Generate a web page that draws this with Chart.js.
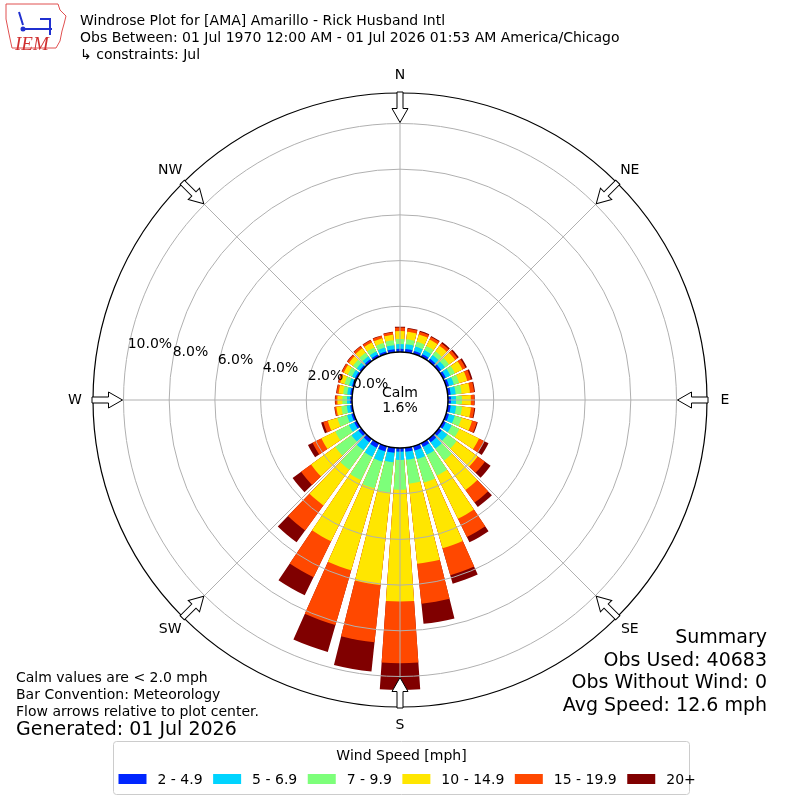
<!DOCTYPE html>
<html>
<head>
<meta charset="utf-8">
<script src="https://cdn.jsdelivr.net/npm/chart.js@4.4.1/dist/chart.umd.min.js"></script>
<style>
  html, body { margin: 0; padding: 0; background: #fff; }
  #wrap { width: 800px; height: 800px; }
</style>
</head>
<body>
<div id="wrap"><canvas id="windrose" width="800" height="800"></canvas></div>
<script>
// direction bins (degrees, meteorological "from")
const directions = [0, 10, 20, 30, 40, 50, 60, 70, 80, 90, 100, 110, 120, 130, 140, 150, 160, 170,
                    180, 190, 200, 210, 220, 230, 240, 250, 260, 270, 280, 290, 300, 310, 320, 330, 340, 350];

const speedBins = ["2 - 4.9", "5 - 6.9", "7 - 9.9", "10 - 14.9", "15 - 19.9", "20+"];
const binColors = ["#0026ff", "#00d4ff", "#7dff7a", "#ffe600", "#ff4800", "#800000"];

// percent of observations per direction, one array per speed bin
const speed2to5 = [0.14, 0.14, 0.13, 0.13, 0.13, 0.13, 0.13, 0.13, 0.13, 0.13, 0.13, 0.13, 0.13, 0.15, 0.18, 0.18, 0.20, 0.18,
                   0.16, 0.22, 0.24, 0.22, 0.18, 0.15, 0.13, 0.11, 0.09, 0.09, 0.09, 0.09, 0.09, 0.09, 0.11, 0.11, 0.11, 0.13];
const speed5to7 = [0.21, 0.21, 0.20, 0.20, 0.20, 0.20, 0.22, 0.22, 0.22, 0.22, 0.24, 0.26, 0.29, 0.31, 0.35, 0.39, 0.39, 0.35,
                   0.36, 0.42, 0.46, 0.44, 0.44, 0.37, 0.26, 0.20, 0.15, 0.13, 0.13, 0.13, 0.15, 0.15, 0.15, 0.15, 0.18, 0.18];
const speed7to10 = [0.22, 0.22, 0.22, 0.20, 0.20, 0.22, 0.22, 0.24, 0.26, 0.26, 0.26, 0.31, 0.37, 0.50, 0.64, 1.01, 1.07, 1.05,
                    1.31, 1.33, 1.23, 1.14, 1.05, 0.88, 0.66, 0.44, 0.24, 0.20, 0.18, 0.20, 0.20, 0.20, 0.20, 0.20, 0.20, 0.22];
const speed10to15 = [0.35, 0.33, 0.33, 0.31, 0.31, 0.33, 0.37, 0.37, 0.37, 0.39, 0.39, 0.48, 0.96, 1.14, 1.60, 2.10, 2.99, 3.52,
                     4.89, 4.07, 3.72, 2.98, 1.93, 1.31, 0.68, 0.44, 0.22, 0.22, 0.20, 0.20, 0.20, 0.22, 0.24, 0.24, 0.22, 0.24];
const speed15to20 = [0.15, 0.13, 0.13, 0.13, 0.13, 0.13, 0.15, 0.17, 0.18, 0.15, 0.15, 0.22, 0.26, 0.39, 0.68, 0.89, 1.23, 1.76,
                     2.70, 2.52, 2.49, 1.75, 1.36, 0.54, 0.43, 0.20, 0.07, 0.09, 0.09, 0.09, 0.09, 0.09, 0.11, 0.11, 0.11, 0.11];
const speed20up = [0.04, 0.04, 0.04, 0.04, 0.07, 0.07, 0.07, 0.07, 0.04, 0.02, 0.04, 0.04, 0.20, 0.31, 0.24, 0.26, 0.38, 0.89,
                   1.17, 1.29, 1.23, 0.88, 0.64, 0.46, 0.22, 0.10, 0.02, 0.02, 0.02, 0.02, 0.02, 0.02, 0.02, 0.02, 0.02, 0.02];

const ringTicks = [0, 2, 4, 6, 8, 10];
const compassLabels = ["N", "NE", "E", "SE", "S", "SW", "W", "NW"];
const calmPercent = 1.6;

const titleLines = [
    "Windrose Plot for [AMA] Amarillo - Rick Husband Intl",
    "Obs Between: 01 Jul 1970 12:00 AM - 01 Jul 2026 01:53 AM America/Chicago",
    "\u21b3 constraints: Jul",
];
const noteLines = ["Calm values are < 2.0 mph", "Bar Convention: Meteorology", "Flow arrows relative to plot center."];
const generatedText = "Generated: 01 Jul 2026";
const summaryLines = ["Summary", "Obs Used: 40683", "Obs Without Wind: 0", "Avg Speed: 12.6 mph"];

// geometry of the polar axes (pixels)
const OUTER_R = 307;
const CALM_R = 48;
const PX_PER_PCT = 22.85;
const rMin = -CALM_R / PX_PER_PCT;
const rMax = rMin + OUTER_R / PX_PER_PCT;
const BAR_DEG = 8;
const GAP_DEG = 2;

const FONT = "DejaVu Sans";
const SMALL = 14;
const LARGE = 19;
Chart.defaults.font.family = FONT;

// stacked bars: each dataset is cumulative, interleaved with empty gap slices
const bins = [speed2to5, speed5to7, speed7to10, speed10to15, speed15to20, speed20up];
let running = directions.map(() => 0);
const datasets = bins.map((bin, k) => {
    running = running.map((v, i) => v + bin[i]);
    const data = [];
    running.forEach((v) => data.push(v, 0));
    return {
        label: speedBins[k],
        data: data,
        backgroundColor: (ctx) => (ctx.dataIndex % 2 ? "rgba(0,0,0,0)" : binColors[k]),
        borderWidth: 0,
        angle: (ctx) => (ctx.dataIndex % 2 ? GAP_DEG : BAR_DEG),
    };
});
const labels = directions.flatMap((d) => [d + "\u00b0", ""]);

function text(ctx, str, x, y, size, align, color) {
    ctx.font = size + "px '" + FONT + "'";
    ctx.textAlign = align || "left";
    ctx.textBaseline = "alphabetic";
    ctx.fillStyle = color || "#000";
    ctx.fillText(str, x, y);
}

function drawArrow(ctx, cx, cy, deg, rTip, rTail) {
    ctx.save();
    ctx.translate(cx, cy);
    ctx.rotate((deg * Math.PI) / 180);
    const rBase = rTip + 14;
    ctx.beginPath();
    ctx.moveTo(-3, -rTail);
    ctx.lineTo(3, -rTail);
    ctx.lineTo(3, -rBase);
    ctx.lineTo(8, -rBase);
    ctx.lineTo(0, -rTip);
    ctx.lineTo(-8, -rBase);
    ctx.lineTo(-3, -rBase);
    ctx.closePath();
    ctx.fillStyle = "#fff";
    ctx.fill();
    ctx.strokeStyle = "#000";
    ctx.lineWidth = 1;
    ctx.stroke();
    ctx.restore();
}

function drawLogo(ctx) {
    ctx.save();
    ctx.strokeStyle = "#e05050";
    ctx.lineWidth = 1;
    ctx.beginPath();
    const pts = [[6, 4], [58, 4], [60, 10], [66, 16], [64, 24], [62, 31], [60, 41], [56, 48], [12, 48], [9, 34], [6, 19]];
    pts.forEach((p, i) => (i ? ctx.lineTo(p[0], p[1]) : ctx.moveTo(p[0], p[1])));
    ctx.closePath();
    ctx.stroke();
    ctx.strokeStyle = "#2030d0";
    ctx.fillStyle = "#2030d0";
    ctx.lineWidth = 2;
    ctx.beginPath();
    ctx.moveTo(23, 29); ctx.lineTo(52, 29);
    ctx.moveTo(40, 19); ctx.lineTo(50, 19); ctx.lineTo(50, 35);
    ctx.moveTo(19, 12); ctx.lineTo(23, 25);
    ctx.stroke();
    ctx.beginPath(); ctx.arc(23, 29, 2.5, 0, Math.PI * 2); ctx.fill();
    ctx.font = "italic 19px 'Liberation Serif'";
    ctx.fillStyle = "#d03030";
    ctx.textAlign = "left";
    ctx.fillText("IEM", 15, 45);
    ctx.restore();
}

const overlay = {
    id: "windroseOverlay",
    afterDraw(chart) {
        const ctx = chart.ctx;
        const s = chart.scales.r;
        const cx = s.xCenter;
        const cy = s.yCenter;
        const R = s.drawingArea;
        const r0 = s.getDistanceFromCenterForValue(0);

        // spokes every 45 degrees
        ctx.save();
        ctx.strokeStyle = "#b0b0b0";
        ctx.lineWidth = 1;
        for (let k = 0; k < 8; k++) {
            const a = (k * 45 * Math.PI) / 180;
            ctx.beginPath();
            ctx.moveTo(cx + r0 * Math.sin(a), cy - r0 * Math.cos(a));
            ctx.lineTo(cx + R * Math.sin(a), cy - R * Math.cos(a));
            ctx.stroke();
        }

        // outer frame
        ctx.strokeStyle = "#000";
        ctx.lineWidth = 1.2;
        ctx.beginPath();
        ctx.arc(cx, cy, R, 0, Math.PI * 2);
        ctx.stroke();

        // calm circle
        ctx.fillStyle = "#fff";
        ctx.beginPath();
        ctx.arc(cx, cy, r0, 0, Math.PI * 2);
        ctx.fill();
        ctx.lineWidth = 1.5;
        ctx.stroke();
        ctx.restore();

        text(ctx, "Calm", cx, cy - 3, SMALL, "center");
        text(ctx, calmPercent.toFixed(1) + "%", cx, cy + 12, SMALL, "center");

        // ring labels along 10 degrees above west
        const la = (170 * Math.PI) / 180;
        ringTicks.forEach((v) => {
            const r = s.getDistanceFromCenterForValue(v);
            text(ctx, v.toFixed(1) + "%", cx + r * Math.cos(la), cy - r * Math.sin(la) - 3.5, SMALL, "left");
        });

        // flow arrows and compass labels
        compassLabels.forEach((lab, k) => {
            const deg = k * 45;
            drawArrow(ctx, cx, cy, deg, s.getDistanceFromCenterForValue(10) + 1, R + 1);
            const a = (deg * Math.PI) / 180;
            ctx.font = SMALL + "px '" + FONT + "'";
            ctx.textAlign = "center";
            ctx.textBaseline = "middle";
            ctx.fillStyle = "#000";
            ctx.fillText(lab, cx + (R + 18) * Math.sin(a), cy - (R + 18) * Math.cos(a));
        });

        // titles and notes
        drawLogo(ctx);
        titleLines.forEach((t, i) => text(ctx, t, 80, 25 + i * 17, SMALL, "left"));
        noteLines.forEach((t, i) => text(ctx, t, 16, 682 + i * 17, SMALL, "left"));
        text(ctx, generatedText, 16, 735, LARGE, "left");
        summaryLines.forEach((t, i) => text(ctx, t, 767, 643 + i * 22.5, LARGE, "right"));

        // speed legend
        ctx.save();
        ctx.fillStyle = "rgba(255,255,255,0.85)";
        ctx.strokeStyle = "#cccccc";
        ctx.lineWidth = 1;
        ctx.beginPath();
        ctx.roundRect(113.5, 741.5, 576, 53, 3);
        ctx.fill();
        ctx.stroke();
        ctx.restore();
        text(ctx, "Wind Speed [mph]", 401.5, 760, SMALL, "center");
        ctx.font = SMALL + "px '" + FONT + "'";
        let x = 118.5;
        speedBins.forEach((lab, k) => {
            ctx.fillStyle = binColors[k];
            ctx.fillRect(x, 774, 28, 10);
            text(ctx, lab, x + 39, 784, SMALL, "left");
            x += 39 + ctx.measureText(lab).width + 10.5;
        });
    },
};

new Chart(document.getElementById("windrose"), {
    type: "polarArea",
    data: { labels: labels, datasets: datasets },
    options: {
        responsive: false,
        animation: false,
        events: [],
        layout: { padding: 400 - OUTER_R },
        plugins: {
            legend: { display: false },
            tooltip: { enabled: false },
        },
        scales: {
            r: {
                min: rMin,
                max: rMax,
                startAngle: -BAR_DEG / 2,
                ticks: { display: false },
                afterBuildTicks: (scale) => {
                    scale.ticks = ringTicks.map((v) => ({ value: v }));
                },
                grid: {
                    z: 1,
                    circular: true,
                    lineWidth: 1,
                    color: (ctx) => (ctx.tick && ctx.tick.value === 0 ? "rgba(0,0,0,0)" : "#b0b0b0"),
                },
                angleLines: { display: false },
                pointLabels: { display: false },
            },
        },
    },
    plugins: [overlay],
});
</script>
</body>
</html>
